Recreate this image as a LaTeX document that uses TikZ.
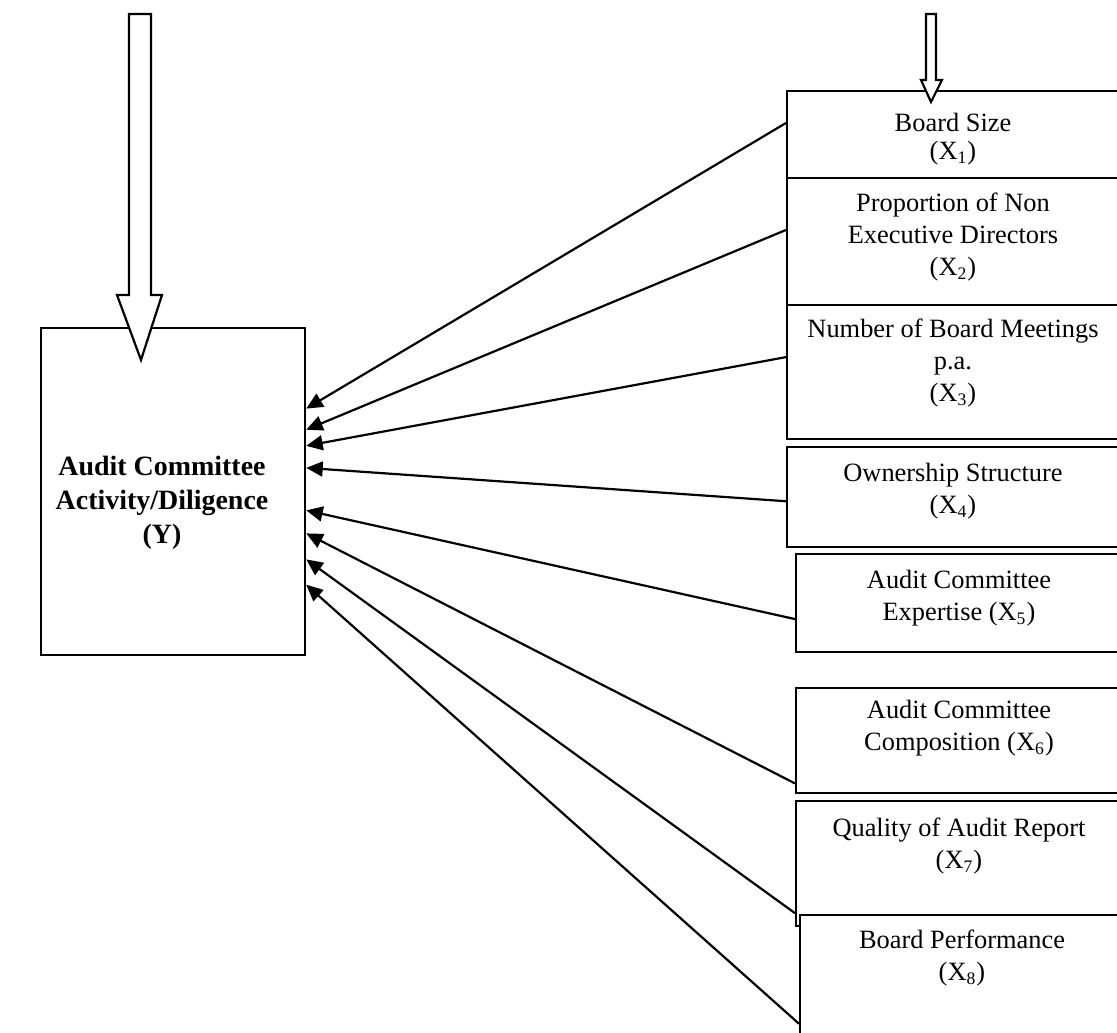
\documentclass[tikz,border=0pt]{standalone}
\usepackage{fontspec}
\setmainfont{Liberation Serif}
\usetikzlibrary{arrows.meta,calc}

\begin{document}
\begin{tikzpicture}[x=0.4545pt, y=-0.4545pt,
    frame/.style={draw, line width=1pt, fill=white, anchor=north west, inner sep=0pt},
    factortext/.style={align=center, font=\fontsize{12}{14.5}\selectfont},
    ytext/.style={align=center, font=\fontsize{12.7}{15.5}\selectfont\bfseries},
    link/.style={-{Triangle[length=7.5pt,width=6.8pt]}, line width=1pt},
    blockarrow/.style={draw, line width=1pt, fill=white, line join=miter}]
    \useasboundingbox (0,0) rectangle (1117,1033);
    % Dependent variable
    \node[frame, minimum width=120pt, minimum height=148.6pt] (y) at (40,327) {};
    \node[ytext] (ylab) at (162,503) {Audit Committee\\Activity/Diligence\\(Y)};
    % Explanatory variables
    \node[frame, minimum width=158.6pt, minimum height=39.5pt] (b1) at (786,90) {};
    \node[frame, minimum width=158.6pt, minimum height=57.7pt] (b2) at (786,177) {};
    \node[frame, minimum width=158.6pt, minimum height=60.9pt] (b3) at (786,304) {};
    \node[frame, minimum width=158.6pt, minimum height=45.5pt] (b4) at (786,446) {};
    \node[frame, minimum width=154.5pt, minimum height=44.5pt] (b5) at (795,553) {};
    \node[frame, minimum width=154.5pt, minimum height=47.7pt] (b6) at (795,687) {};
    \node[frame, minimum width=154.5pt, minimum height=56.8pt] (b7) at (795,800) {};
    \node[frame, minimum width=152.7pt, minimum height=66.4pt] (b8) at (799,914) {};
    \node[factortext] (t1) at (953,139) {Board Size\\[-2pt](X\textsubscript{1})};
    \node[factortext] (t2) at (953,237) {Proportion of Non\\Executive Directors\\(X\textsubscript{2})};
    \node[factortext] (t3) at (953,363) {Number of Board Meetings\\p.a.\\(X\textsubscript{3})};
    \node[factortext] (t4) at (953,491) {Ownership Structure\\(X\textsubscript{4})};
    \node[factortext] (t5) at (959,598) {Audit Committee\\Expertise (X\textsubscript{5})};
    \node[factortext] (t6) at (959,728) {Audit Committee\\Composition (X\textsubscript{6})};
    \node[factortext] (t7) at (959,846) {Quality of Audit Report\\(X\textsubscript{7})};
    \node[factortext] (t8) at (962,958) {Board Performance\\(X\textsubscript{8})};
    % Links to Y
    \draw[link] ($(b1.north west)!0.37!(b1.south west)$) -- ($(y.north east)!0.248!(y.south east)$);
    \draw[link] ($(b2.north west)!0.41!(b2.south west)$) -- ($(y.north east)!0.312!(y.south east)$);
    \draw[link] ($(b3.north west)!0.39!(b3.south west)$) -- ($(y.north east)!0.361!(y.south east)$);
    \draw[link] ($(b4.north west)!0.54!(b4.south west)$) -- ($(y.north east)!0.428!(y.south east)$);
    \draw[link] ($(b5.north west)!0.66!(b5.south west)$) -- ($(y.north east)!0.557!(y.south east)$);
    \draw[link] ($(b6.north west)!0.90!(b6.south west)$) -- ($(y.north east)!0.627!(y.south east)$);
    \draw[link] ($(b7.north west)!0.89!(b7.south west)$) -- ($(y.north east)!0.706!(y.south east)$);
    \draw[link] ($(b8.north west)!0.74!(b8.south west)$) -- ($(y.north east)!0.783!(y.south east)$);
    % Arrows from above
    \draw[blockarrow] (129,14) -- (151,14) -- (151,295) -- (162,295) -- (141,360) -- (117,295) -- (129,295) -- cycle;
    \draw[blockarrow] (926,14) -- (936,14) -- (936,80) -- (942,80) -- (931,102) -- (921,80) -- (926,80) -- cycle;
\end{tikzpicture}
\end{document}
